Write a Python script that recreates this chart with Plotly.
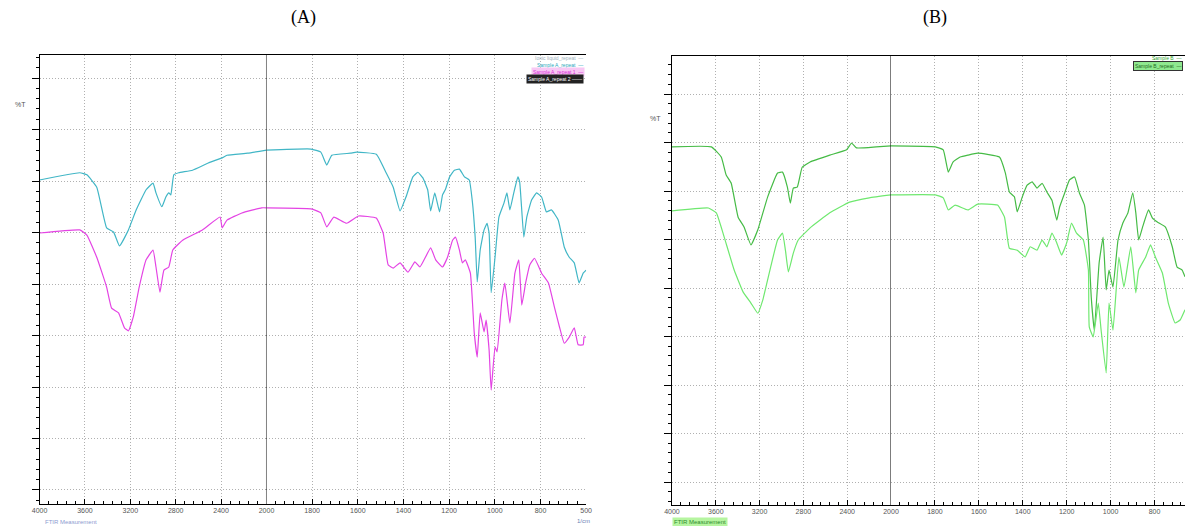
import plotly.graph_objects as go

# ---------------- data (wavenumber in 1/cm, transmittance %T) ----------------
a_cyan_wn = [4000, 3645, 3583, 3496, 3409, 3348, 3296, 3217, 3148, 3061, 3000, 2974, 2922, 2887, 2861, 2843,
             2817, 2774, 2652, 2513, 2391, 2348, 2165, 2000, 1805, 1762, 1736, 1714, 1632, 1606, 1519, 1476,
             1445, 1415, 1389, 1359, 1337, 1315, 1294, 1281, 1263, 1242, 1229, 1216, 1198, 1177, 1155, 1133,
             1112, 1099, 1086, 1077, 1064, 1047, 1034, 1025, 1016, 999, 982, 960, 947, 934, 917, 899, 891,
             873, 860, 839, 817, 795, 774, 752, 722, 696, 674, 652, 631, 613, 600]
a_cyan_t = [70.2, 71.6, 71.2, 68.8, 60.9, 60.1, 57.4, 60.5, 64.4, 68.3, 69.6, 67.7, 65.0, 66.9, 67.7, 67.3,
            71.2, 71.6, 72.1, 73.5, 74.5, 75.0, 75.4, 76.0, 76.2, 75.6, 73.1, 75.0, 75.4, 75.6, 75.2, 71.6,
            68.8, 64.2, 66.9, 70.8, 71.7, 70.6, 68.3, 64.2, 67.7, 64.0, 67.3, 68.4, 70.8, 72.1, 72.3, 70.8,
            70.2, 66.3, 59.1, 50.4, 56.6, 60.5, 61.8, 59.9, 48.3, 55.2, 63.0, 65.7, 67.7, 64.4, 67.7, 70.8, 69.8,
            59.1, 63.0, 66.3, 67.7, 66.9, 64.0, 64.4, 62.4, 57.2, 55.2, 54.1, 50.2, 52.1, 52.7]

a_mag_wn = [4000, 3645, 3583, 3496, 3409, 3365, 3304, 3252, 3217, 3174, 3122, 3061, 3000, 2974, 2939, 2904,
            2861, 2826, 2739, 2565, 2409, 2391, 2348, 2217, 2043, 2000, 1805, 1762, 1736, 1705, 1649, 1597,
            1519, 1489, 1467, 1445, 1415, 1380, 1350, 1328, 1281, 1259, 1229, 1207, 1185, 1172, 1155, 1142,
            1129, 1107, 1090, 1077, 1064, 1047, 1038, 1025, 1016, 999, 990, 969, 956, 934, 912, 895, 882,
            865, 847, 826, 795, 765, 739, 717, 696, 674, 652, 635, 613, 609, 600]
a_mag_t = [59.9, 60.5, 59.5, 55.2, 49.4, 45.3, 44.4, 41.5, 40.9, 43.6, 49.4, 54.7, 56.6, 53.3, 48.4, 52.7,
           53.3, 56.6, 58.5, 60.5, 63.0, 60.9, 62.4, 63.8, 64.8, 64.8, 64.6, 63.8, 61.1, 63.0, 61.8, 63.2,
           62.8, 59.9, 53.7, 53.1, 54.1, 52.3, 54.3, 53.3, 57.0, 54.7, 53.3, 55.2, 58.5, 59.1, 56.6, 54.1,
           54.7, 52.1, 40.5, 35.8, 44.4, 40.7, 43.0, 37.2, 29.4, 37.8, 36.8, 46.9, 50.2, 42.4, 52.1, 54.7, 45.9,
           50.2, 53.7, 55.0, 52.1, 50.2, 45.5, 41.7, 38.5, 39.7, 41.5, 38.2, 38.2, 39.7, 39.7]

b_up_wn = [4000, 3640, 3550, 3505, 3459, 3396, 3342, 3279, 3216, 3126, 3036, 2991, 2946, 2919, 2892, 2856,
           2811, 2739, 2559, 2405, 2360, 2315, 2135, 2000, 1798, 1762, 1739, 1717, 1685, 1650, 1605, 1506,
           1479, 1461, 1438, 1425, 1402, 1380, 1357, 1335, 1312, 1290, 1267, 1245, 1232, 1209, 1187, 1164,
           1142, 1119, 1101, 1088, 1074, 1052, 1034, 1020, 1007, 989, 966, 944, 921, 899, 885, 872, 854,
           827, 809, 787, 751, 719, 697, 674, 661]
b_up_t = [79.1, 79.1, 77.0, 73.3, 71.6, 64.6, 62.6, 58.9, 62.0, 68.8, 73.7, 73.9, 70.8, 67.5, 70.6, 70.8,
          74.9, 76.0, 77.4, 78.5, 79.9, 78.9, 79.1, 79.3, 79.1, 78.5, 73.9, 76.0, 77.0, 77.4, 77.8, 77.0,
          73.7, 69.8, 68.8, 65.7, 68.8, 71.2, 71.9, 70.6, 71.6, 69.8, 68.1, 64.0, 66.7, 69.6, 72.3, 72.9,
          69.6, 67.1, 59.9, 48.1, 41.3, 55.2, 60.5, 49.6, 53.7, 50.2, 59.9, 63.4, 65.5, 69.6, 65.5, 59.9, 62.6,
          66.1, 64.4, 63.6, 62.6, 58.5, 54.3, 53.7, 52.3]

b_low_wn = [4000, 3667, 3595, 3523, 3432, 3351, 3279, 3216, 3171, 3099, 3036, 2991, 2964, 2937, 2892, 2847,
            2739, 2559, 2378, 2198, 2000, 1798, 1762, 1739, 1708, 1650, 1605, 1515, 1483, 1461, 1425, 1389,
            1366, 1335, 1312, 1290, 1267, 1245, 1223, 1200, 1178, 1155, 1124, 1101, 1097, 1079, 1056, 1043,
            1020, 1007, 989, 962, 939, 908, 885, 872, 840, 818, 796, 764, 737, 706, 683, 661]
b_low_t = [65.9, 66.5, 65.5, 60.5, 53.7, 49.2, 46.9, 44.8, 47.5, 54.3, 59.9, 61.3, 57.8, 53.3, 57.2, 59.9,
           62.4, 65.5, 67.7, 68.6, 69.2, 69.2, 68.6, 66.1, 67.1, 66.1, 67.3, 67.1, 64.6, 58.2, 57.8, 56.4,
           58.5, 57.8, 59.9, 58.5, 61.3, 59.3, 56.8, 59.3, 63.4, 61.3, 59.9, 53.7, 42.0, 39.9, 46.9, 41.3,
           32.5, 46.9, 41.3, 56.4, 50.2, 58.5, 49.0, 53.7, 56.4, 58.9, 56.4, 53.1, 46.9, 42.8, 43.4, 45.5]

hi_ticks = [4000, 3600, 3200, 2800, 2400, 2000]
lo_ticks = [1800, 1600, 1400, 1200, 1000, 800, 600]
lo_ticks_a_text = ["1800", "1600", "1400", "1200", "1000", "800", "500"]
lo_ticks_b = [1800, 1600, 1400, 1200, 1000, 800]

# ---------------- layout helpers ----------------
W, H = 1193, 526


def fx(p):
    return p / W


def fy(p):
    return 1 - p / H


def split(wn, t):
    s1 = [(w, v) for w, v in zip(wn, t) if w >= 2000]
    s2 = [(w, v) for w, v in zip(wn, t) if w <= 2000]
    return ([p[0] for p in s1], [p[1] for p in s1]), ([p[0] for p in s2], [p[1] for p in s2])


fig = go.Figure()

series = [
    (a_cyan_wn, a_cyan_t, "#41b6c6", "x", "x2", "y"),
    (a_mag_wn, a_mag_t, "#e444e4", "x", "x2", "y"),
    (b_up_wn, b_up_t, "#45bb45", "x3", "x4", "y2"),
    (b_low_wn, b_low_t, "#6fe86f", "x3", "x4", "y2"),
]
for wn, t, col, xa1, xa2, ya in series:
    (w1, t1), (w2, t2) = split(wn, t)
    for ww, tt, xa in ((w1, t1, xa1), (w2, t2, xa2)):
        fig.add_trace(go.Scatter(x=ww, y=tt, mode="lines",
                                 line=dict(color=col, width=1.2, shape="spline", smoothing=0.35),
                                 xaxis=xa, yaxis=ya, showlegend=False, hoverinfo="skip"))

tickfont = dict(family="Liberation Sans, Arial", size=7, color="#555555")
grid = dict(showgrid=True, gridcolor="#b0b0b0", griddash="1px,2px", gridwidth=1, zeroline=False)


def xax(domain, rng, anchor, tickvals, ticktext, minor_dtick):
    return dict(domain=domain, range=rng, anchor=anchor, tickmode="array", tickvals=tickvals,
                ticktext=ticktext, showline=True, linecolor="black", linewidth=1, mirror=True,
                ticks="inside", ticklen=5, tickcolor="black", tickfont=tickfont,
                minor=dict(tickmode="linear", tick0=0, dtick=minor_dtick, ticks="inside",
                           ticklen=3, tickcolor="black", showgrid=False),
                **grid)


def yax(domain, rng, anchor):
    return dict(domain=domain, range=rng, anchor=anchor, tickmode="linear", tick0=0, dtick=10,
                showticklabels=False, showline=True, linecolor="black", linewidth=1,
                ticks="outside", ticklen=7, tickcolor="black",
                minor=dict(tickmode="linear", tick0=0, dtick=2, ticks="outside", ticklen=3,
                           tickcolor="black", showgrid=False),
                **grid)


fig.update_layout(
    width=W, height=H, margin=dict(l=0, r=0, t=0, b=0),
    paper_bgcolor="white", plot_bgcolor="white",
    xaxis=xax([fx(32), fx(262)], [4000, 2000], "y", hi_ticks, [str(v) for v in hi_ticks], 80),
    xaxis2=xax([fx(262), fx(586)], [2000, 600], "y", lo_ticks, lo_ticks_a_text, 40),
    yaxis=yax([fy(504), fy(55)], [7.28, 94.47], "x"),
    xaxis3=xax([fx(673), fx(895)], [4000, 2000], "y2", hi_ticks, [str(v) for v in hi_ticks], 80),
    xaxis4=xax([fx(895), 1.0], [2000, 661], "y2", lo_ticks_b, [str(v) for v in lo_ticks_b], 40),
    yaxis2=yax([fy(505), fy(56)], [5.26, 97.84], "x3"),
    showlegend=False,
)

# solid separators at 2000 1/cm
fig.add_shape(type="line", xref="x", yref="y domain", x0=2000, x1=2000, y0=0, y1=1,
              line=dict(color="black", width=1))
fig.add_shape(type="line", xref="x3", yref="y2 domain", x0=2000, x1=2000, y0=0, y1=1,
              line=dict(color="black", width=1))

ann = []


def text(x, y, s, size, color, family="Liberation Sans, Arial", xanchor="center", **kw):
    ann.append(dict(x=fx(x), y=fy(y), xref="paper", yref="paper", text=s, showarrow=False,
                    xanchor=xanchor, yanchor="middle", font=dict(size=size, color=color, family=family), **kw))


serif = "Liberation Serif, Times New Roman"
text(300, 18, "(A)", 18, "black", serif)
text(940, 18, "(B)", 18, "black", serif)
text(13, 105, "%T", 7, "#555555")
text(656, 118, "%T", 7, "#555555")
text(35, 522, "FTIR Measurement", 6, "#8c9bd0", xanchor="left")
text(592, 521, "1/cm", 6, "#6a7fb5", xanchor="right")
text(673, 522, "FTIR Measurement", 6, "#2e8b2e", xanchor="left", bgcolor="#b6f5a0")

# legend-like labels panel A
text(585, 58, "Ionic liquid_repeat  —", 5, "#9fb4bd", xanchor="right")
text(585, 65, "Sample A_repeat  —", 5, "#2aa9bd", xanchor="right")
text(585, 72, "Sample A_repeat 1  —", 5, "#d830d8", xanchor="right", bgcolor="#f8c8f4")
text(584, 79, "Sample A_repeat 2 ——", 5, "white", xanchor="right", bgcolor="#222222")
# legend-like labels panel B
text(1191, 58, "Sample B  —", 5, "#35a935", xanchor="right")
text(1191, 66, "Sample B_repeat  —", 5, "#1f6d1f", xanchor="right", bgcolor="#8fe88f",
     bordercolor="#333333", borderwidth=1)

fig.update_layout(annotations=ann)
fig.write_html("out.html")
